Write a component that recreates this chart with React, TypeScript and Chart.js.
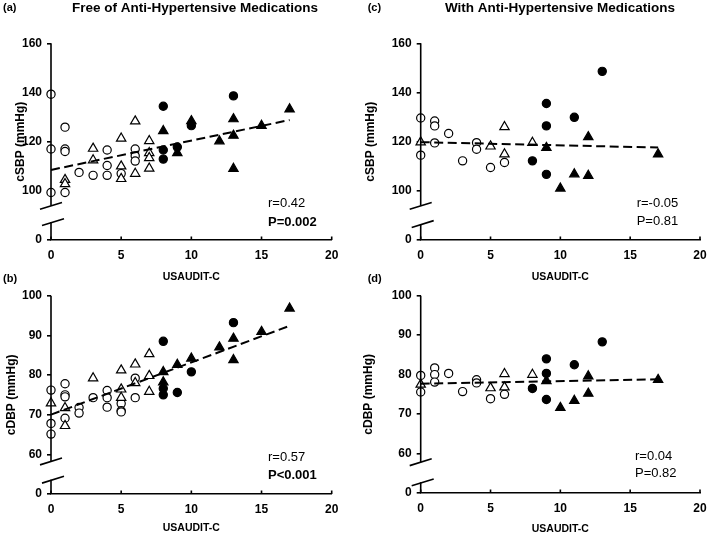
import React, { useEffect, useRef } from "react";
import { Chart, registerables } from "chart.js";

Chart.register(...registerables);

type Pair = [number, number];

const FONT = "'Liberation Sans', Arial, Helvetica, sans-serif";

// USAUDIT-C score axis, shared by all four panels
const xTickValues = [0, 5, 10, 15, 20];

// (a) cSBP, free of anti-hypertensive medications
const sbpFreeOpenCircle: Pair[] = [
  [0, 139.3], [0, 117], [0, 99.3], [1, 125.9], [1, 117], [1, 116], [1, 99.3],
  [2, 107.5], [3, 106.3], [4, 116.6], [4, 110.3], [4, 106.3], [5, 107],
  [6, 117], [6, 114.2], [6, 112.1],
];
const sbpFreeOpenTriangle: Pair[] = [
  [1, 104.5], [1, 102.8], [3, 117.2], [3, 112.5], [5, 121.3], [5, 110],
  [5, 104.9], [6, 128.3], [6, 107], [7, 120.3], [7, 115.4], [7, 113.4], [7, 109.1],
];
const sbpFreeFilledCircle: Pair[] = [
  [8, 134.4], [8, 116.6], [8, 112.9], [9, 117.8], [10, 126.5], [13, 138.6],
];
const sbpFreeFilledTriangle: Pair[] = [
  [8, 124.4], [9, 115.4], [10, 128.4], [12, 120.2], [13, 129.2], [13, 122.5],
  [13, 109], [15, 126.5], [17, 133.2],
];
const sbpFreeFit: Pair[] = [[0, 108.5], [17, 128.8]];

// (b) cDBP, free of anti-hypertensive medications
const dbpFreeOpenCircle: Pair[] = [
  [0, 76.2], [0, 67.8], [0, 65.1], [1, 77.8], [1, 75], [1, 74.5], [1, 69.1],
  [2, 71.8], [2, 70.4], [3, 74.3], [4, 76.1], [4, 74.3], [4, 71.9],
  [5, 72.8], [5, 71.0], [5, 70.7], [6, 79.2], [6, 74.3],
];
const dbpFreeOpenTriangle: Pair[] = [
  [0, 72.9], [1, 71.7], [1, 67.2], [3, 79.2], [5, 81.2], [5, 76.4], [5, 74.3],
  [6, 82.7], [6, 78.0], [7, 85.3], [7, 79.8], [7, 75.8],
];
const dbpFreeFilledCircle: Pair[] = [
  [8, 88.5], [8, 76.6], [8, 75.0], [9, 75.6], [10, 80.8], [13, 93.2],
];
const dbpFreeFilledTriangle: Pair[] = [
  [8, 80.8], [8, 78.2], [9, 82.6], [10, 84.2], [12, 87.0], [13, 89.2],
  [13, 83.8], [15, 90.9], [17, 96.8],
];
const dbpFreeFit: Pair[] = [[0, 70.0], [17, 92.4]];

// (c) cSBP, with anti-hypertensive medications
const sbpMedOpenCircle: Pair[] = [
  [0, 129.6], [0, 114.5], [1, 128.4], [1, 126.4], [1, 119.5], [2, 123.3],
  [3, 112.2], [4, 119.6], [4, 116.9], [5, 109.5], [6, 111.5],
];
const sbpMedOpenTriangle: Pair[] = [
  [0, 119.8], [5, 118.1], [6, 126.0], [6, 114.9], [8, 119.6],
];
const sbpMedFilledCircle: Pair[] = [
  [8, 112.2], [9, 135.5], [9, 126.4], [9, 106.7], [11, 129.9], [13, 148.6],
];
const sbpMedFilledTriangle: Pair[] = [
  [9, 117.5], [10, 101.0], [11, 106.8], [12, 121.9], [12, 106.2], [17, 114.9],
];
const sbpMedFit: Pair[] = [[0, 119.8], [17, 117.6]];

// (d) cDBP, with anti-hypertensive medications
const dbpMedOpenCircle: Pair[] = [
  [0, 79.8], [0, 75.6], [1, 81.7], [1, 80.0], [1, 78.1], [2, 80.3],
  [3, 75.7], [4, 78.7], [4, 77.9], [5, 73.9], [6, 75.0],
];
const dbpMedOpenTriangle: Pair[] = [
  [0, 77.5], [5, 76.6], [6, 80.2], [6, 76.8], [8, 80.0],
];
const dbpMedFilledCircle: Pair[] = [
  [8, 76.5], [9, 84.0], [9, 80.3], [9, 73.7], [11, 82.5], [13, 88.3],
];
const dbpMedFilledTriangle: Pair[] = [
  [9, 78.4], [10, 71.6], [11, 73.4], [12, 79.6], [12, 75.2], [17, 78.7],
];
const dbpMedFit: Pair[] = [[0, 77.7], [17, 78.8]];

interface Panel {
  key: string;
  letter: string;
  heading: string;
  box: { left: number; top: number; width: number; height: number };
  area: { left: number; right: number; top: number; bottom: number };
  yMin: number;
  yMax: number;
  yStep: number;
  yLabel: string;
  yTitleX: number;
  xTitleY: number;
  breakHi: number;
  breakLo: number;
  openCircle: Pair[];
  openTriangle: Pair[];
  filledCircle: Pair[];
  filledTriangle: Pair[];
  fit: Pair[];
  rText: string;
  pText: string;
  pBold: boolean;
  statX: number;
  rY: number;
  pY: number;
  headingX: number;
  letterX: number;
  letterY: number;
}

const panels: Panel[] = [
  {
    key: "a", letter: "(a)", heading: "Free of Anti-Hypertensive Medications",
    box: { left: 0, top: 0, width: 354, height: 290 },
    area: { left: 51, right: 331.7, top: 43.3, bottom: 240 },
    yMin: 80, yMax: 160, yStep: 20, yLabel: "cSBP (mmHg)", yTitleX: 21, xTitleY: 277,
    breakHi: 93.9, breakLo: 87.3,
    openCircle: sbpFreeOpenCircle, openTriangle: sbpFreeOpenTriangle,
    filledCircle: sbpFreeFilledCircle, filledTriangle: sbpFreeFilledTriangle, fit: sbpFreeFit,
    rText: "r=0.42", pText: "P=0.002", pBold: true, statX: 268, rY: 203, pY: 222,
    headingX: 195, letterX: 3, letterY: 8,
  },
  {
    key: "b", letter: "(b)", heading: "",
    box: { left: 0, top: 268, width: 354, height: 267 },
    area: { left: 51, right: 331.7, top: 27.7, bottom: 226 },
    yMin: 50, yMax: 100, yStep: 10, yLabel: "cDBP (mmHg)", yTitleX: 12, xTitleY: 260,
    breakHi: 58.2, breakLo: 53.6,
    openCircle: dbpFreeOpenCircle, openTriangle: dbpFreeOpenTriangle,
    filledCircle: dbpFreeFilledCircle, filledTriangle: dbpFreeFilledTriangle, fit: dbpFreeFit,
    rText: "r=0.57", pText: "P<0.001", pBold: true, statX: 268, rY: 189.7, pY: 207.7,
    headingX: 0, letterX: 3, letterY: 11,
  },
  {
    key: "c", letter: "(c)", heading: "With Anti-Hypertensive Medications",
    box: { left: 355, top: 0, width: 354, height: 290 },
    area: { left: 65.7, right: 345, top: 43.3, bottom: 240 },
    yMin: 80, yMax: 160, yStep: 20, yLabel: "cSBP (mmHg)", yTitleX: 16, xTitleY: 277,
    breakHi: 93.9, breakLo: 86.5,
    openCircle: sbpMedOpenCircle, openTriangle: sbpMedOpenTriangle,
    filledCircle: sbpMedFilledCircle, filledTriangle: sbpMedFilledTriangle, fit: sbpMedFit,
    rText: "r=-0.05", pText: "P=0.81", pBold: false, statX: 281.7, rY: 203.3, pY: 221,
    headingX: 205, letterX: 12.7, letterY: 8,
  },
  {
    key: "d", letter: "(d)", heading: "",
    box: { left: 355, top: 268, width: 354, height: 267 },
    area: { left: 65.7, right: 345, top: 27.7, bottom: 225 },
    yMin: 50, yMax: 100, yStep: 10, yLabel: "cDBP (mmHg)", yTitleX: 14, xTitleY: 261,
    breakHi: 57.8, breakLo: 52.7,
    openCircle: dbpMedOpenCircle, openTriangle: dbpMedOpenTriangle,
    filledCircle: dbpMedFilledCircle, filledTriangle: dbpMedFilledTriangle, fit: dbpMedFit,
    rText: "r=0.04", pText: "P=0.82", pBold: false, statX: 280, rY: 188, pY: 205.3,
    headingX: 0, letterX: 12.7, letterY: 11,
  },
];

const toPoints = (pairs: Pair[]) => pairs.map(([x, y]) => ({ x, y }));

function markerSet(data: Pair[], style: "circle" | "triangle", filled: boolean) {
  return {
    type: "scatter" as const,
    data: toPoints(data),
    pointStyle: style,
    pointRadius: style === "circle" ? 4.1 : 5.4,
    pointBackgroundColor: filled ? "#000" : "#fff",
    pointBorderColor: "#000",
    pointBorderWidth: 1.2,
    showLine: false,
    clip: false as const,
  };
}

// Axis line with a break, inward x ticks, headings and r / P statistics
function decorPlugin(p: Panel) {
  return {
    id: "decor-" + p.key,
    afterDraw(chart: Chart) {
      const { ctx, chartArea } = chart;
      const ys = chart.scales.y;
      const xs = chart.scales.x;
      ctx.save();
      ctx.strokeStyle = "#000";
      ctx.lineWidth = 1.6;
      const ax = chartArea.left;
      const yHi = ys.getPixelForValue(p.breakHi);
      const yLo = ys.getPixelForValue(p.breakLo);
      ctx.beginPath();
      ctx.moveTo(ax, chartArea.top);
      ctx.lineTo(ax, yHi);
      ctx.moveTo(ax, yLo);
      ctx.lineTo(ax, chartArea.bottom);
      ctx.stroke();

      ctx.beginPath();
      ctx.moveTo(ax - 11, yHi + 3.4);
      ctx.lineTo(ax + 11, yHi - 3.4);
      ctx.moveTo(ax - 9, yLo + 3.4);
      ctx.lineTo(ax + 13, yLo - 3.4);
      ctx.stroke();

      ctx.beginPath();
      for (const v of xTickValues) {
        const px = xs.getPixelForValue(v);
        ctx.moveTo(px, chartArea.bottom);
        ctx.lineTo(px, chartArea.bottom - 3.5);
      }
      ctx.stroke();

      ctx.fillStyle = "#000";
      ctx.textBaseline = "middle";
      ctx.textAlign = "left";
      ctx.font = `bold 11px ${FONT}`;
      ctx.fillText(p.letter, p.letterX, p.letterY);

      if (p.heading) {
        ctx.textAlign = "center";
        ctx.font = `bold 13.5px ${FONT}`;
        ctx.fillText(p.heading, p.headingX, 8);
      }

      ctx.textAlign = "left";
      ctx.font = `13px ${FONT}`;
      ctx.fillText(p.rText, p.statX, p.rY);
      ctx.font = `${p.pBold ? "bold " : ""}13px ${FONT}`;
      ctx.fillText(p.pText, p.statX, p.pY);
      ctx.restore();
    },
  };
}

function PanelChart({ p }: { p: Panel }) {
  const ref = useRef<HTMLCanvasElement | null>(null);

  useEffect(() => {
    if (!ref.current) return;
    const { width, height } = p.box;
    const xAxisHeight = height - p.area.bottom;
    const xTitleLh = 10.5 * 1.2;
    const chart = new Chart(ref.current, {
      type: "scatter",
      data: {
        datasets: [
          {
            type: "line",
            data: toPoints(p.fit),
            borderColor: "#000",
            borderWidth: 2,
            borderDash: [9, 4.5],
            pointRadius: 0,
            fill: false,
            clip: false,
          } as any,
          markerSet(p.filledTriangle, "triangle", true),
          markerSet(p.filledCircle, "circle", true),
          markerSet(p.openTriangle, "triangle", false),
          markerSet(p.openCircle, "circle", false),
        ],
      },
      options: {
        animation: false,
        responsive: false,
        events: [],
        layout: {
          padding: { left: 0, right: width - p.area.right, top: p.area.top, bottom: 0 },
        },
        plugins: { legend: { display: false }, tooltip: { enabled: false }, title: { display: false } },
        scales: {
          x: {
            type: "linear",
            min: 0,
            max: 20,
            offset: false,
            grid: { display: false },
            border: { display: true, color: "#000", width: 1.6 },
            ticks: {
              stepSize: 5,
              padding: 0,
              color: "#000",
              font: { family: FONT, size: 12, weight: "bold" },
              maxRotation: 0,
            },
            title: {
              display: true,
              text: "USAUDIT-C",
              color: "#000",
              font: { family: FONT, size: 10.5, weight: "bold" },
              padding: { top: 0, bottom: Math.max(0, height - p.xTitleY - xTitleLh / 2) },
            },
            afterFit: (s: any) => {
              s.height = xAxisHeight;
            },
          },
          y: {
            type: "linear",
            min: p.yMin,
            max: p.yMax,
            grid: {
              display: true,
              drawOnChartArea: false,
              drawTicks: true,
              tickLength: 4,
              color: "#000",
              lineWidth: 1.6,
            },
            border: { display: false },
            ticks: {
              stepSize: p.yStep,
              padding: 5,
              color: "#000",
              font: { family: FONT, size: 12, weight: "bold" },
              callback: (v: any) => (Number(v) === p.yMin ? "0" : String(v)),
            },
            title: {
              display: true,
              text: p.yLabel,
              color: "#000",
              font: { family: FONT, size: 12, weight: "bold" },
              padding: { top: p.yTitleX - 7.2, bottom: 0 },
            },
            afterFit: (s: any) => {
              s.width = p.area.left;
            },
          },
        },
      } as any,
      plugins: [decorPlugin(p)],
    });
    return () => chart.destroy();
  }, [p]);

  return (
    <canvas
      ref={ref}
      width={p.box.width}
      height={p.box.height}
      style={{ position: "absolute", left: p.box.left, top: p.box.top, width: p.box.width, height: p.box.height }}
    />
  );
}

export default function App() {
  return (
    <div style={{ position: "absolute", left: 0, top: 0, width: 709, height: 535, background: "#fff", overflow: "hidden" }}>
      {panels.map((p) => (
        <PanelChart key={p.key} p={p} />
      ))}
    </div>
  );
}
